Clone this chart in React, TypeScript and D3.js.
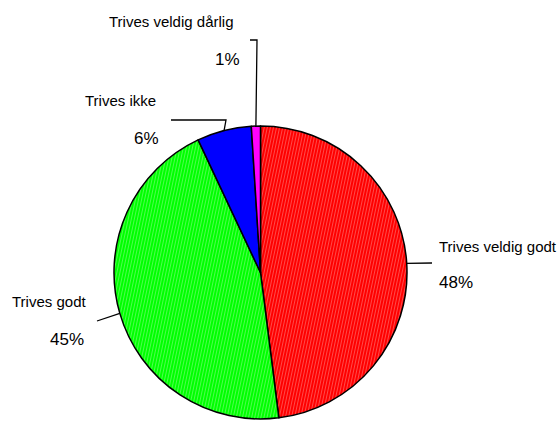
import React from "react";
import * as d3 from "d3";

const categories = ["Trives veldig godt", "Trives godt", "Trives ikke", "Trives veldig dårlig"];
const values = [48, 45, 6, 1];
const percentLabels = ["48%", "45%", "6%", "1%"];
const colors = ["#ff0000", "#00ff00", "#0000ff", "#ff00ff"];
const stripeColors = ["#ff4a4a", "#4dff4d", "#0000ff", "#ff00ff"];

const W = 560, H = 421;
const cx = 260.5, cy = 272.5, R = 146.5;

// label layout (positions only)
const labelLayout = [
  { elbow: [[432, 263]], name: [439, 252, "start"], pct: [439, 288, "start"] },
  { elbow: [[97, 321]], name: [12, 307, "start"], pct: [50, 345, "start"] },
  { elbow: [[226, 120], [171, 120]], name: [85, 106, "start"], pct: [134, 144, "start"] },
  { elbow: [[257, 40], [250, 40]], name: [109, 27, "start"], pct: [215, 65, "start"] },
];

export default function App() {
  const data = categories.map((c, i) => ({ c, v: values[i], i }));
  const pie = d3.pie<any>().value((d) => d.v).sort(null);
  const arcs = pie(data);
  const arc = d3.arc<any>().innerRadius(0).outerRadius(R);
  const font = "'Liberation Sans', Arial, sans-serif";
  return (
    <svg width={W} height={H} style={{ position: "absolute", left: 0, top: 0 }}>
      <defs>
        {colors.map((col, i) => (
          <pattern key={i} id={`p${i}`} width={3} height={12} patternUnits="userSpaceOnUse" patternTransform="rotate(12)">
            <rect width={3} height={12} fill={col} />
            <rect width={1} height={12} fill={stripeColors[i]} />
          </pattern>
        ))}
      </defs>
      <rect width={W} height={H} fill="#fff" />
      <g transform={`translate(${cx},${cy})`}>
        {arcs.map((a, i) => (
          <path key={i} d={arc(a) as string} fill={`url(#p${i})`} stroke="#000" strokeWidth={1.5} strokeLinejoin="round" />
        ))}
      </g>
      {arcs.map((a, i) => {
        const mid = (a.startAngle + a.endAngle) / 2;
        const sx = cx + R * Math.sin(mid);
        const sy = cy - R * Math.cos(mid);
        const L = labelLayout[i];
        const pts = [[sx, sy], ...L.elbow];
        const line = d3.line()(pts as [number, number][]);
        return (
          <g key={i}>
            <path d={line as string} fill="none" stroke="#000" strokeWidth={1.3} />
            <text x={L.name[0] as number} y={L.name[1] as number} textAnchor={L.name[2] as any} fontFamily={font} fontSize={15} fill="#000">{categories[i]}</text>
            <text x={L.pct[0] as number} y={L.pct[1] as number} textAnchor={L.pct[2] as any} fontFamily={font} fontSize={17} fill="#000">{percentLabels[i]}</text>
          </g>
        );
      })}
    </svg>
  );
}
